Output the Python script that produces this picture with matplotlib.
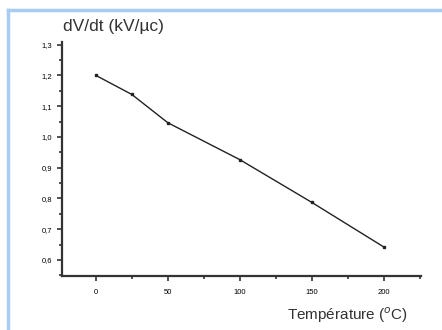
import matplotlib.pyplot as plt
from matplotlib.lines import Line2D
from matplotlib.ticker import FuncFormatter, MultipleLocator

temp = [0, 25, 50, 100, 150, 200]
dvdt = [1.20, 1.138, 1.046, 0.926, 0.787, 0.642]

plt.rcParams['font.family'] = ['Liberation Sans', 'DejaVu Sans']

fig = plt.figure(figsize=(4.42, 3.30), dpi=100)

# light blue frame on left and top
fig.add_artist(Line2D([0.019, 0.019], [0, 0.97], color='#a9cdf2', lw=2.5))
fig.add_artist(Line2D([0.019, 1.0], [0.97, 0.97], color='#a9cdf2', lw=2.5))

ax = fig.add_axes([0.140, 0.164, 0.812, 0.71])
ax.plot(temp, dvdt, color='#222222', lw=1.0, marker='s', ms=2)

ax.set_xlim(-23.6, 225.7)
ax.set_ylim(0.548, 1.31)

ax.spines['top'].set_visible(False)
ax.spines['right'].set_visible(False)
for s in ['left', 'bottom']:
    ax.spines[s].set_linewidth(1.6)
    ax.spines[s].set_color('#333333')

ax.xaxis.set_major_locator(MultipleLocator(50))
ax.xaxis.set_minor_locator(MultipleLocator(25))
ax.yaxis.set_major_locator(MultipleLocator(0.1))
ax.yaxis.set_minor_locator(MultipleLocator(0.05))
ax.yaxis.set_major_formatter(FuncFormatter(lambda v, p: f"{v:.1f}".replace('.', ',')))
ax.xaxis.set_major_formatter(FuncFormatter(lambda v, p: f"{v:.0f}"))

ax.tick_params(which='both', direction='out', color='#333333', width=1.2, labelsize=5.5)
ax.tick_params(which='major', length=3.5)
ax.tick_params(which='minor', length=2.5)
ax.tick_params(axis='x', pad=6)

fig.text(0.143, 0.905, "dV/dt (kV/µc)", fontsize=12.5, color='#333333')
fig.text(0.65, 0.03, "Température ($^{o}$C)", fontsize=11, color='#333333')

fig.savefig('out.png', dpi=100)
